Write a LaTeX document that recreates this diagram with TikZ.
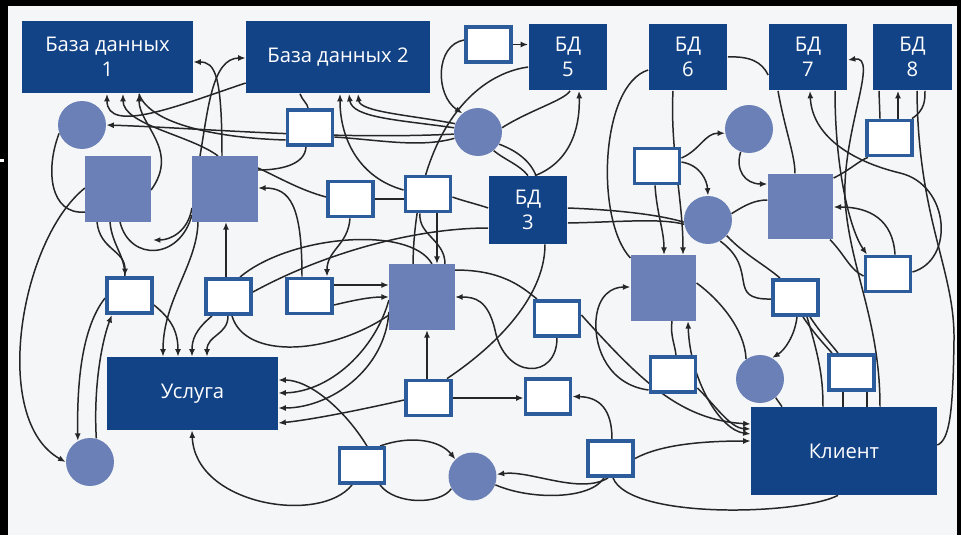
\documentclass[tikz,border=0pt]{standalone}
\usepackage{fontspec}
\setsansfont{Open Sans}
\usepackage{xcolor}
\usepackage{tikz}
\usetikzlibrary{arrows.meta}
\definecolor{navy}{HTML}{134387}
\definecolor{slate}{HTML}{6B80B6}
\definecolor{frame}{HTML}{2C5C9C}
\definecolor{paper}{HTML}{F5F6F8}
\definecolor{ink}{HTML}{262626}
\pgfdeclarelayer{back}
\pgfdeclarelayer{wires}
\pgfsetlayers{back,wires,main}

\begin{document}
\begin{tikzpicture}[x=0.02cm, y=-0.02cm, font=\sffamily, >={Latex[length=1.5mm,width=1.2mm]},
  dbbox/.style={fill=navy, text=white, align=center, inner sep=0pt, font=\sffamily\fontsize{11.5}{14.2}\selectfont},
  bdbox/.style={dbbox, minimum width=1.58cm, minimum height=1.34cm},
  block/.style={fill=slate, inner sep=0pt, minimum size=1.31cm},
  dot/.style={circle, fill=slate, inner sep=0pt, minimum size=0.96cm},
  slot/.style={draw=frame, line width=2.2pt, fill=white, inner sep=0pt, minimum width=0.9cm, minimum height=0.7cm},
  edge/.style={draw=ink, line width=0.85pt, ->},
  edge2/.style={draw=ink, line width=0.85pt, <->},
  wire/.style={draw=ink, line width=0.85pt}]
% —— фон ——
\begin{pgfonlayer}{back}
\fill[black] (0,0) rectangle (961,535);
\fill[paper] (8,6) rectangle (957,535);
\fill[white] (0,159) rectangle (4,162);
\end{pgfonlayer}
\useasboundingbox (0,0) rectangle (961,535);

% —— хранилища ——
\node[dbbox, minimum width=3.42cm, minimum height=1.46cm] (db1) at (107.5,57) {База данных\\1};
\node[dbbox, minimum width=3.68cm, minimum height=1.46cm] (db2) at (338,57) {База данных 2};
\node[bdbox] (bd5) at (568,57) {БД\\5};
\node[bdbox] (bd6) at (688,57) {БД\\6};
\node[bdbox] (bd7) at (808,57) {БД\\7};
\node[bdbox] (bd8) at (912.5,57) {БД\\8};
\node[bdbox, minimum height=1.36cm] (bd3) at (528,210) {БД\\3};
\node[dbbox, minimum width=3.42cm, minimum height=1.46cm] (svc) at (192.5,393.5) {Услуга};
\node[dbbox, minimum width=3.72cm, minimum height=1.76cm] (cli) at (844,451) {Клиент};

% —— квадраты и круги ——
\node[block] (s1) at (118,189) {};
\node[block] (s2) at (225,189) {};
\node[block] (s3) at (422,297) {};
\node[block] (s4) at (663.5,288) {};
\node[block] (s5) at (800.5,206.5) {};
\node[dot] (c1) at (82,125) {};
\node[dot] (c2) at (478,132) {};
\node[dot] (c3) at (749,129) {};
\node[dot] (c4) at (708,220) {};
\node[dot] (c5) at (760,379) {};
\node[dot] (c6) at (90,462) {};
\node[dot] (c7) at (472.5,476.5) {};

% —— пустые рамки ——
\node[slot] (r1) at (488.5,44.5) {};
\node[slot] (r2) at (310,127.5) {};
\node[slot] (r3) at (350.5,199) {};
\node[slot] (r4) at (428,194) {};
\node[slot] (r5) at (657,166) {};
\node[slot] (r6) at (889.5,138) {};
\node[slot] (r7) at (129.5,295.5) {};
\node[slot] (r8) at (228.5,296.5) {};
\node[slot] (r9) at (309.5,296) {};
\node[slot] (r10) at (557,318.5) {};
\node[slot] (r11) at (795.5,297.5) {};
\node[slot] (r12) at (888,274) {};
\node[slot] (r13) at (673,374.5) {};
\node[slot] (r14) at (851.5,372.5) {};
\node[slot] (r15) at (428.5,398) {};
\node[slot] (r16) at (548,396.5) {};
\node[slot] (r17) at (362,465.5) {};
\node[slot] (r18) at (610.5,458.5) {};
\coordinate (loose) at (153,240);

\begin{pgfonlayer}{wires}
% —— слева сверху ——
\draw[edge] (s1.east |- 0,190) .. controls (180,150) and (139,125) .. (139,0 |- db1.south);
\draw[edge] (218,0 |- s2.north) .. controls (190,135) and (123,125) .. (123,0 |- db1.south);
\draw[edge] (db2.west |- 0,83) .. controls (180,105) and (107,135) .. (107,0 |- db1.south);
\draw[wire] (r2.west |- 0,140) .. controls (220,138) and (150,125) .. (139,0 |- db1.south);
\draw[edge] (c2.185) .. controls (330,140) and (200,128) .. (c1.east);
\draw[edge] (222,0 |- s2.north) .. controls (222,75) and (215,62) .. (db1.east |- 0,62);
\draw[edge] (200,0 |- s2.north) .. controls (208,110) and (212,58) .. (db2.west |- 0,58);
\draw[edge] (198,0 |- s2.south) .. controls (197,265) and (163,300) .. (163,0 |- svc.north);
\draw[edge] (s2.west |- 0,208) .. controls (188,232) and (170,240) .. (loose);
\draw[wire] (120,0 |- s1.south) .. controls (130,262) and (180,260) .. (s2.west |- 0,215);
\draw[edge] (97,0 |- s1.south) .. controls (100,250) and (125,250) .. (125,0 |- r7.north);
\draw[wire] (110,0 |- s1.south) .. controls (112,245) and (125,255) .. (125,0 |- r7.north);
\draw[wire] (c1.200) .. controls (45,170) and (50,215) .. (s1.west |- 0,212);
\draw[edge] (s1.west |- 0,188) .. controls (20,240) and (-10,420) .. (c6.west);
\draw[edge] (r7.west |- 0,298) .. controls (80,330) and (77,390) .. (c6.120);
\draw[edge] (c6.75) .. controls (93,380) and (104,335) .. (112,0 |- r7.south);
% —— к услуге ——
\draw[edge] (r7.east |- 0,305) .. controls (170,318) and (178,330) .. (178,0 |- svc.north);
\draw[edge] (212,0 |- r8.south) .. controls (195,330) and (192,340) .. (192,0 |- svc.north);
\draw[edge] (228,0 |- r8.south) .. controls (228,335) and (207,335) .. (207,0 |- svc.north);
\draw[wire] (232,0 |- r8.south) .. controls (245,360) and (330,355) .. (s3.west |- 0,315);
\draw[edge] (226,0 |- r8.north) -- (226,0 |- s2.south);
\draw[wire] (240,0 |- r8.north) .. controls (290,235) and (410,225) .. (432,0 |- s3.north);
\draw[wire] (r8.east |- 0,292) .. controls (330,250) and (420,228) .. (bd3.west |- 0,228);
\draw[edge] (r9.east |- 0,285) -- (s3.west |- 0,285);
\draw[edge] (r9.east |- 0,305) .. controls (355,300) and (370,297) .. (s3.west |- 0,297);
\draw[edge] (302,0 |- r9.north) .. controls (302,205) and (290,188) .. (s2.east |- 0,188);
\draw[edge] (350,0 |- r3.south) .. controls (348,245) and (327,250) .. (327,0 |- r9.north);
% —— середина сверху ——
\draw[wire] (300,0 |- db2.south) .. controls (302,100) and (308,104) .. (308,0 |- r2.north);
\draw[wire] (306,0 |- r2.south) .. controls (305,165) and (280,170) .. (s2.east |- 0,170);
\draw[wire] (s2.east |- 0,168) .. controls (280,178) and (300,190) .. (r3.west |- 0,197);
\draw[wire] (r3.east) -- (r4.west |- r3.east);
\draw[wire] (r4.east |- 0,197) .. controls (460,200) and (480,205) .. (bd3.west |- 0,208);
\draw[wire] (bd3.east |- 0,208) .. controls (620,210) and (660,215) .. (c4.185);
\draw[wire] (bd3.east |- 0,223) .. controls (620,222) and (660,218) .. (c4.190);
\draw[edge] (r4.west |- 0,190) .. controls (360,178) and (340,140) .. (340,0 |- db2.south);
\draw[edge] (c2.170) .. controls (400,120) and (352,118) .. (349,0 |- db2.south);
\draw[edge] (c2.160) .. controls (410,115) and (360,112) .. (358,0 |- db2.south);
\draw[wire] (r2.east |- 0,137) .. controls (380,140) and (420,148) .. (c2.195);
\draw[edge] (r1.west |- 0,40) .. controls (435,45) and (435,95) .. (c2.130);
\draw[edge] (r1.east) -- (bd5.west |- r1.east);
\draw[wire] (bd5.west |- 0,67) .. controls (470,75) and (415,140) .. (413,0 |- s3.north);
\draw[edge] (535,0 |- bd3.north) .. controls (575,160) and (580,120) .. (579,0 |- bd5.south);
\draw[wire] (c2.10) .. controls (530,110) and (565,100) .. (570,0 |- bd5.south);
\draw[wire] (c2.-50) .. controls (505,160) and (520,165) .. (528,0 |- bd3.north);
\draw[wire] (c2.-30) .. controls (515,150) and (530,160) .. (536,0 |- bd3.north);
\draw[edge] (437,0 |- r4.south) -- (437,0 |- s3.north);
\draw[wire] (420,0 |- r4.south) .. controls (418,235) and (445,240) .. (445,0 |- s3.north);
% —— справа сверху ——
\draw[edge] (r5.east |- 0,158) .. controls (700,150) and (705,133) .. (c3.190);
\draw[edge] (r5.east |- 0,162) .. controls (700,165) and (707,180) .. (c4.north);
\draw[edge] (c3.250) .. controls (735,170) and (745,184) .. (s5.west |- 0,184);
\draw[wire] (c4.15) .. controls (745,205) and (755,200) .. (s5.west |- 0,200);
\draw[edge] (655,0 |- r5.south) .. controls (657,215) and (664,230) .. (664,0 |- s4.north);
\draw[edge] (673,0 |- bd6.south) .. controls (670,150) and (683,200) .. (683,0 |- s4.north);
\draw[wire] (bd6.west |- 0,70) .. controls (600,85) and (595,220) .. (s4.west |- 0,258);
\draw[wire] (bd6.east |- 0,57) .. controls (750,56) and (762,62) .. (bd7.west |- 0,75);
\draw[wire] (778,0 |- bd7.south) .. controls (785,130) and (795,155) .. (795,0 |- s5.north);
\draw[edge] (835,0 |- bd7.south) .. controls (835,170) and (850,230) .. (867,0 |- r12.north);
\draw[edge] (880,0 |- cli.north) .. controls (880,320) and (850,270) .. (845,200) .. controls (842,130) and (880,55) .. (bd7.east |- 0,60);
\draw[edge] (r12.east |- 0,272) .. controls (955,260) and (950,185) .. (900,173) .. controls (850,161) and (812,135) .. (810,0 |- bd7.south);
\draw[wire] (s5.east |- 0,178) .. controls (850,170) and (860,160) .. (868,0 |- r6.south);
\draw[edge] (898,0 |- r6.north) -- (898,0 |- bd8.south);
\draw[wire] (880,0 |- r6.north) -- (879,0 |- bd8.south);
\draw[wire] (912,0 |- r6.north) .. controls (925,110) and (925,100) .. (925,0 |- bd8.south);
\draw[wire] (917,0 |- bd8.south) .. controls (918,220) and (955,270) .. (954,340) .. controls (953,410) and (950,440) .. (cli.east |- 0,445);
\draw[edge] (895,0 |- r12.north) .. controls (893,220) and (870,207) .. (s5.east |- 0,207);
\draw[wire] (830,0 |- s5.south) .. controls (845,255) and (850,270) .. (r12.west |- 0,276);
% —— справа снизу ——
\draw[wire] (s4.east |- 0,283) .. controls (720,300) and (745,330) .. (c5.125);
\draw[edge] (797,0 |- r11.south) .. controls (795,335) and (785,350) .. (c5.60);
\draw[wire] (c5.-50) -- (782,0 |- cli.north);
\draw[wire] (c4.-40) .. controls (745,255) and (765,265) .. (780,0 |- r11.north);
\draw[wire] (c4.-60) .. controls (760,270) and (725,300) .. (r11.west |- 0,299);
\draw[wire] (803,0 |- r11.south) .. controls (815,335) and (825,345) .. (832,0 |- r14.north);
\draw[wire] (810,0 |- r11.south) .. controls (822,335) and (832,345) .. (838,0 |- r14.north);
\draw[wire] (807,0 |- r11.south) .. controls (820,360) and (823,380) .. (823,0 |- cli.north);
\draw[wire] (843,0 |- r14.south) -- (843,0 |- cli.north);
\draw[wire] (867,0 |- r14.south) -- (867,0 |- cli.north);
\draw[edge] (r10.east |- 0,315) .. controls (640,380) and (680,420) .. (cli.west |- 0,424);
\draw[edge] (r13.east |- 0,388) .. controls (715,405) and (730,428) .. (cli.west |- 0,429);
\draw[edge2] (688,0 |- s4.south) .. controls (690,380) and (720,430) .. (cli.west |- 0,434);
\draw[edge] (r13.west |- 0,390) .. controls (610,385) and (594,350) .. (596,320) .. controls (598,295) and (612,287) .. (s4.west |- 0,287);
\draw[wire] (672,0 |- s4.south) .. controls (670,335) and (675,345) .. (676,0 |- r13.north);
% —— снизу ——
\draw[edge] (367,0 |- r17.north) .. controls (345,410) and (310,380) .. (svc.east |- 0,380);
\draw[edge] (s3.west |- 0,300) .. controls (375,350) and (330,392) .. (svc.east |- 0,393);
\draw[edge] (s3.west |- 0,312) .. controls (385,370) and (330,408) .. (svc.east |- 0,408);
\draw[edge] (r15.west |- 0,400) .. controls (360,410) and (310,420) .. (svc.east |- 0,423);
\draw[edge] (427,0 |- r15.north) -- (427,0 |- s3.south);
\draw[edge] (r15.east) -- (r16.west |- r15.east);
\draw[wire] (447,0 |- r15.north) .. controls (490,350) and (545,300) .. (545,0 |- bd3.south);
\draw[wire] (s3.east |- 0,270) .. controls (500,270) and (520,285) .. (537,0 |- r10.north);
\draw[edge] (557,0 |- r10.south) .. controls (557,380) and (505,380) .. (495,330) .. controls (488,300) and (475,297) .. (s3.east |- 0,297);
\draw[edge] (380,0 |- r17.north) .. controls (410,435) and (440,440) .. (c7.135);
\draw[edge] (352,0 |- r17.south) .. controls (320,525) and (195,505) .. (192,0 |- svc.south);
\draw[wire] (380,0 |- r17.south) .. controls (395,505) and (440,505) .. (c7.210);
\draw[edge] (608,0 |- r18.south) .. controls (580,495) and (530,470) .. (c7.5);
\draw[wire] (c7.-20) .. controls (530,500) and (590,500) .. (604,0 |- r18.south);
\draw[wire] (613,0 |- r18.south) .. controls (630,520) and (800,515) .. (838,0 |- cli.south);
\draw[edge] (612,0 |- r18.north) .. controls (612,410) and (600,397) .. (r16.east);
\draw[edge] (r18.east) .. controls (660,445) and (700,441) .. (cli.west |- 0,441);
\end{pgfonlayer}
\end{tikzpicture}
\end{document}
